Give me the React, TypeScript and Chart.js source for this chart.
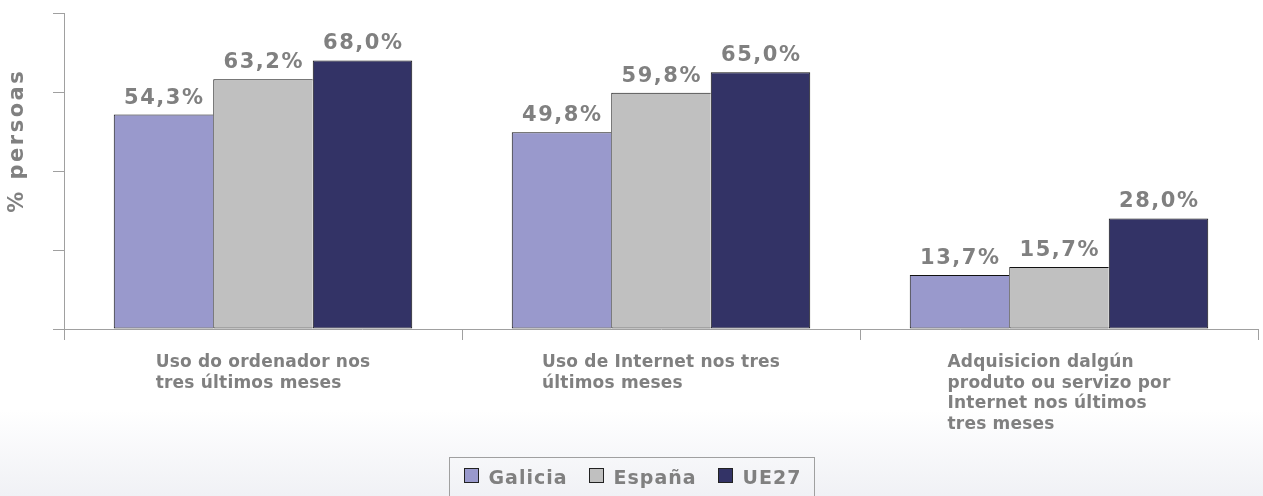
import React, { useEffect, useRef } from 'react';
import { Chart, registerables } from 'chart.js';

Chart.register(...registerables);

// ---- data ----
const categories: string[][] = [
  ['Uso do ordenador nos', 'tres últimos meses'],
  ['Uso de Internet nos tres', 'últimos meses'],
  ['Adquisicion dalgún', 'produto ou servizo por', 'Internet nos últimos', 'tres meses'],
];
const seriesNames = ['Galicia', 'España', 'UE27'];
const galicia = [54.3, 49.8, 13.7];
const espana = [63.2, 59.8, 15.7];
const ue27 = [68.0, 65.0, 28.0];
const seriesValues = [galicia, espana, ue27];
const seriesColors = ['#9999CC', '#C0C0C0', '#333366'];
const yTicks = [0, 20, 40, 60, 80];
const yTitle = '% persoas';

// ---- styles ----
const axisColor = '#a0a0a0';
const textColor = '#808080';
const FONT = '"DejaVu Sans", Verdana, sans-serif';

const fmt = (v: number) => v.toFixed(1).replace('.', ',') + '%';

const customPlugin = {
  id: 'customDecor',
  beforeDraw(chart: any) {
    const { ctx, width, height } = chart;
    ctx.save();
    ctx.fillStyle = '#ffffff';
    ctx.fillRect(0, 0, width, height);
    const g = ctx.createLinearGradient(0, 410, 0, height);
    g.addColorStop(0, 'rgba(240,241,245,0)');
    g.addColorStop(1, 'rgba(240,241,245,1)');
    ctx.fillStyle = g;
    ctx.fillRect(0, 410, width, height - 410);
    ctx.restore();
  },
  afterDatasetsDraw(chart: any) {
    const { ctx } = chart;
    ctx.save();
    ctx.font = `bold 21px ${FONT}`;
    ctx.fillStyle = textColor;
    ctx.textAlign = 'left';
    ctx.textBaseline = 'alphabetic';
    (ctx as any).letterSpacing = '1.5px';
    chart.data.datasets.forEach((ds: any, di: number) => {
      const meta = chart.getDatasetMeta(di);
      meta.data.forEach((bar: any, i: number) => {
        const txt = fmt(ds.data[i]);
        const w = ctx.measureText(txt).width - 1.5;
        ctx.fillText(txt, bar.x - w / 2, bar.y - 11);
      });
    });
    ctx.restore();
  },
  afterDraw(chart: any) {
    const { ctx, chartArea, width } = chart;
    const xs = chart.scales.x;
    ctx.save();
    // category labels: block centered, lines left-aligned
    ctx.font = `bold 17px ${FONT}`;
    ctx.fillStyle = textColor;
    ctx.textAlign = 'left';
    ctx.textBaseline = 'alphabetic';
    (ctx as any).letterSpacing = '0.2px';
    (chart.data.labels as string[][]).forEach((lines, i) => {
      const cx = xs.getPixelForValue(i);
      const maxW = Math.max(...lines.map((l) => ctx.measureText(l).width));
      const x0 = cx - maxW / 2;
      lines.forEach((l, li) => {
        ctx.fillText(l, x0, chartArea.bottom + 38 + li * 20.5);
      });
    });

    // y axis title
    ctx.save();
    ctx.font = `bold 21px ${FONT}`;
    (ctx as any).letterSpacing = '2.5px';
    const tw = ctx.measureText(yTitle).width - 2.5;
    ctx.translate(18, 142);
    ctx.rotate(-Math.PI / 2);
    ctx.textBaseline = 'middle';
    ctx.fillText(yTitle, -tw / 2, 0);
    ctx.restore();

    // legend
    ctx.font = `bold 19px ${FONT}`;
    (ctx as any).letterSpacing = '1px';
    const box = 15;
    const gapText = 10;
    const gapItem = 22;
    const pad = 14;
    const widths = seriesNames.map((n) => ctx.measureText(n).width - 1);
    const contentW =
      widths.reduce((a, b) => a + b, 0) + seriesNames.length * (box + gapText) + (seriesNames.length - 1) * gapItem;
    const boxW = contentW + pad * 2;
    const left = Math.round(width / 2 - boxW / 2) + 0.5;
    const top = 457.5;
    ctx.strokeStyle = axisColor;
    ctx.lineWidth = 1;
    ctx.strokeRect(left, top, Math.round(boxW), 60);
    let x = left + pad;
    seriesNames.forEach((n, i) => {
      ctx.fillStyle = seriesColors[i];
      ctx.fillRect(Math.round(x), 468, box, box);
      ctx.strokeStyle = '#222222';
      ctx.strokeRect(Math.round(x) + 0.5, 468.5, box - 1, box - 1);
      ctx.fillStyle = textColor;
      ctx.textBaseline = 'alphabetic';
      ctx.fillText(n, x + box + gapText, 484);
      x += box + gapText + widths[i] + gapItem;
    });
    ctx.restore();
  },
};

export default function App() {
  const ref = useRef<HTMLCanvasElement>(null);
  useEffect(() => {
    const chart = new Chart(ref.current as HTMLCanvasElement, {
      type: 'bar',
      data: {
        labels: categories as any,
        datasets: seriesNames.map((name, i) => ({
          label: name,
          data: seriesValues[i],
          backgroundColor: seriesColors[i],
          borderColor: '#111111',
          borderWidth: i < 2 ? { top: 1, left: 1, bottom: 1, right: 0 } : 1,
          borderSkipped: false,
          categoryPercentage: 0.75,
          barPercentage: 1.0,
        })) as any,
      },
      options: {
        animation: false,
        responsive: true,
        maintainAspectRatio: false,
        layout: { padding: { left: 53, right: 5, top: 13, bottom: 156 } },
        plugins: {
          legend: { display: false },
          tooltip: { enabled: false },
          title: { display: false },
        },
        scales: {
          x: {
            grid: {
              display: true,
              offset: true,
              drawOnChartArea: false,
              drawTicks: true,
              tickLength: 11,
              color: axisColor,
            },
            border: { display: true, color: axisColor, width: 1 },
            ticks: { display: false },
          },
          y: {
            min: 0,
            max: 80,
            afterBuildTicks: (s: any) => {
              s.ticks = yTicks.map((v) => ({ value: v }));
            },
            grid: {
              display: true,
              drawOnChartArea: false,
              drawTicks: true,
              tickLength: 11,
              color: axisColor,
            },
            border: { display: true, color: axisColor, width: 1 },
            ticks: { display: false, stepSize: 20 },
          },
        },
      } as any,
      plugins: [customPlugin],
    });
    return () => chart.destroy();
  }, []);
  return (
    <div style={{ position: 'absolute', left: 0, top: 0, width: 1263, height: 496 }}>
      <canvas ref={ref} />
    </div>
  );
}
